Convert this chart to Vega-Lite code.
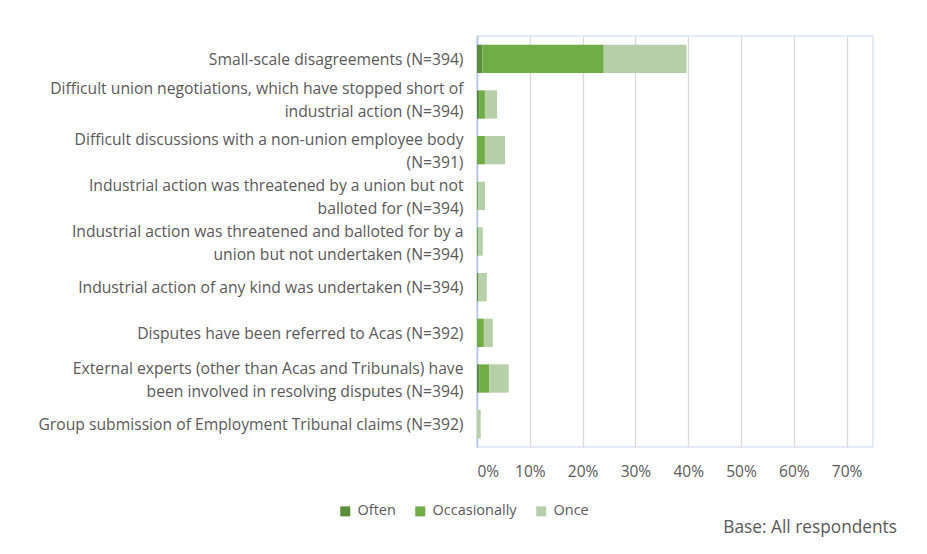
{
  "$schema": "https://vega.github.io/schema/vega-lite/v6.json",
  "width": 396,
  "height": 411,
  "autosize": {"type": "none"},
  "padding": {"left": 477, "top": 36, "right": 53, "bottom": 107},
  "background": "white",
  "title": {
    "text": "Base: All respondents",
    "orient": "bottom",
    "anchor": "end",
    "frame": "group",
    "dx": 24,
    "dy": -9,
    "offset": 10,
    "font": "Open Sans",
    "fontSize": 17.3,
    "fontWeight": "normal",
    "color": "#595959"
  },
  "data": {
    "values": [
      {"row": 1, "label": "Small-scale disagreements (N=394)", "freq": "Often", "ord": 1, "value": 0.010},
      {"row": 1, "label": "Small-scale disagreements (N=394)", "freq": "Occasionally", "ord": 2, "value": 0.230},
      {"row": 1, "label": "Small-scale disagreements (N=394)", "freq": "Once", "ord": 3, "value": 0.157},
      {"row": 2, "label": "Difficult union negotiations, which have stopped short of|industrial action (N=394)", "freq": "Often", "ord": 1, "value": 0.004},
      {"row": 2, "label": "Difficult union negotiations, which have stopped short of|industrial action (N=394)", "freq": "Occasionally", "ord": 2, "value": 0.011},
      {"row": 2, "label": "Difficult union negotiations, which have stopped short of|industrial action (N=394)", "freq": "Once", "ord": 3, "value": 0.023},
      {"row": 3, "label": "Difficult discussions with a non-union employee body|(N=391)", "freq": "Often", "ord": 1, "value": 0.0},
      {"row": 3, "label": "Difficult discussions with a non-union employee body|(N=391)", "freq": "Occasionally", "ord": 2, "value": 0.015},
      {"row": 3, "label": "Difficult discussions with a non-union employee body|(N=391)", "freq": "Once", "ord": 3, "value": 0.038},
      {"row": 4, "label": "Industrial action was threatened by a union but not|balloted for (N=394)", "freq": "Often", "ord": 1, "value": 0.0},
      {"row": 4, "label": "Industrial action was threatened by a union but not|balloted for (N=394)", "freq": "Occasionally", "ord": 2, "value": 0.0025},
      {"row": 4, "label": "Industrial action was threatened by a union but not|balloted for (N=394)", "freq": "Once", "ord": 3, "value": 0.0125},
      {"row": 5, "label": "Industrial action was threatened and balloted for by a|union but not undertaken (N=394)", "freq": "Often", "ord": 1, "value": 0.0},
      {"row": 5, "label": "Industrial action was threatened and balloted for by a|union but not undertaken (N=394)", "freq": "Occasionally", "ord": 2, "value": 0.0025},
      {"row": 5, "label": "Industrial action was threatened and balloted for by a|union but not undertaken (N=394)", "freq": "Once", "ord": 3, "value": 0.0085},
      {"row": 6, "label": "Industrial action of any kind was undertaken (N=394)", "freq": "Often", "ord": 1, "value": 0.0025},
      {"row": 6, "label": "Industrial action of any kind was undertaken (N=394)", "freq": "Occasionally", "ord": 2, "value": 0.0},
      {"row": 6, "label": "Industrial action of any kind was undertaken (N=394)", "freq": "Once", "ord": 3, "value": 0.016},
      {"row": 7, "label": "Disputes have been referred to Acas (N=392)", "freq": "Often", "ord": 1, "value": 0.0},
      {"row": 7, "label": "Disputes have been referred to Acas (N=392)", "freq": "Occasionally", "ord": 2, "value": 0.013},
      {"row": 7, "label": "Disputes have been referred to Acas (N=392)", "freq": "Once", "ord": 3, "value": 0.017},
      {"row": 8, "label": "External experts (other than Acas and Tribunals) have|been involved in resolving disputes (N=394)", "freq": "Often", "ord": 1, "value": 0.005},
      {"row": 8, "label": "External experts (other than Acas and Tribunals) have|been involved in resolving disputes (N=394)", "freq": "Occasionally", "ord": 2, "value": 0.018},
      {"row": 8, "label": "External experts (other than Acas and Tribunals) have|been involved in resolving disputes (N=394)", "freq": "Once", "ord": 3, "value": 0.037},
      {"row": 9, "label": "Group submission of Employment Tribunal claims (N=392)", "freq": "Often", "ord": 1, "value": 0.0},
      {"row": 9, "label": "Group submission of Employment Tribunal claims (N=392)", "freq": "Occasionally", "ord": 2, "value": 0.0},
      {"row": 9, "label": "Group submission of Employment Tribunal claims (N=392)", "freq": "Once", "ord": 3, "value": 0.007}
    ]
  },
  "mark": {"type": "bar"},
  "encoding": {
    "y": {
      "field": "label",
      "type": "nominal",
      "sort": {"field": "row", "op": "min"},
      "scale": {"paddingInner": 0.38, "paddingOuter": 0.19},
      "axis": {
        "title": null,
        "labelExpr": "split(datum.label, '|')",
        "labelFont": "Open Sans",
        "labelFontSize": 15.7,
        "labelColor": "#595959",
        "labelLineHeight": 23,
        "labelLimit": 500,
        "labelPadding": 14,
        "labelOffset": {"condition": [
          {"test": "indexof(datum.value, 'Difficult union') >= 0", "value": -16},
          {"test": "indexof(datum.value, '|') >= 0", "value": -10}
        ], "value": 1},
        "ticks": false,
        "domainColor": "#b4c7e7",
        "domainWidth": 1.5,
        "grid": false
      }
    },
    "x": {
      "field": "value",
      "type": "quantitative",
      "stack": "zero",
      "scale": {"domain": [0, 0.75], "nice": false},
      "axis": {
        "title": null,
        "format": "%",
        "values": [0, 0.1, 0.2, 0.3, 0.4, 0.5, 0.6, 0.7],
        "labelFont": "Open Sans",
        "labelFontSize": 15.5,
        "labelColor": "#595959",
        "labelPadding": 17,
        "ticks": false,
        "domain": false,
        "grid": true,
        "gridColor": "#d9d9d9",
        "gridWidth": 1.3
      }
    },
    "color": {
      "field": "freq",
      "type": "nominal",
      "sort": ["Often", "Occasionally", "Once"],
      "scale": {"domain": ["Often", "Occasionally", "Once"], "range": ["#5a8e3a", "#70ad47", "#b6cfa8"]},
      "legend": {
        "title": null,
        "orient": "none",
        "direction": "horizontal",
        "legendX": -139,
        "legendY": 468,
        "symbolType": "square",
        "symbolSize": 100,
        "symbolStrokeWidth": 0,
        "labelFont": "Open Sans",
        "labelFontSize": 14.5,
        "labelColor": "#595959",
        "labelOffset": 5,
        "columnPadding": 17
      }
    },
    "order": {"field": "ord", "type": "quantitative"}
  },
  "config": {
    "view": {"stroke": "#dae3f3", "strokeWidth": 1.5}
  }
}
